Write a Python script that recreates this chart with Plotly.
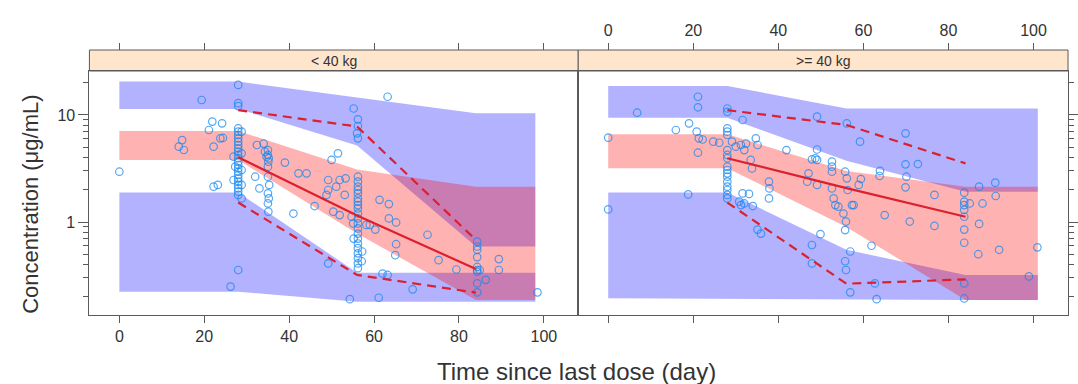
import plotly.graph_objects as go

# ---------------- data ----------------
# simulated prediction intervals (bands) per bin
band_t_L = [0, 28, 56, 84, 98]
p95_hi_L = [20.5, 20.5, 14.6, 10.4, 10.4]
p95_lo_L = [11.4, 11.4, 5.2, 0.59, 0.59]
p50_hi_L = [7.1, 7.1, 3.1, 2.14, 2.14]
p50_lo_L = [3.8, 3.8, 0.78, 0.187, 0.187]
p05_hi_L = [1.89, 1.89, 0.336, 0.336, 0.336]
p05_lo_L = [0.223, 0.223, 0.18, 0.18, 0.18]

band_t_R = [0, 28, 56, 84, 101]
p95_hi_R = [18.7, 18.7, 11.5, 11.5, 11.5]
p95_lo_R = [9.44, 9.44, 3.74, 1.92, 1.92]
p50_hi_R = [6.6, 6.6, 3.0, 2.14, 2.14]
p50_lo_R = [3.18, 3.18, 0.9, 0.187, 0.187]
p05_hi_R = [1.89, 1.89, 0.55, 0.32, 0.32]
p05_lo_R = [0.194, 0.194, 0.19, 0.187, 0.187]

# observed percentiles
obs_t = [28, 56, 84]
obs95_L = [11.1, 7.8, 0.68]
obs50_L = [4.02, 1.15, 0.364]
obs05_L = [1.52, 0.32, 0.219]
obs95_R = [11.1, 8.07, 3.53]
obs50_R = [3.94, 2.07, 1.12]
obs05_R = [1.52, 0.265, 0.291]

# observed concentrations, panel "< 40 kg"
pts_t_L = [0, 19.4, 21.9, 24.2, 21.1, 14.8, 14.0, 15.2, 22.2, 23.8, 24.4, 22.2, 23.2, 26.9, 27.3, 26.9, 26.2,
           28, 28, 28, 28, 28, 28, 28, 28, 28, 28, 28, 28, 28, 28, 28, 28, 28, 28, 28, 28, 28, 28, 28, 28, 28,
           28.8, 28.8, 28.8, 28.8, 28.8,
           32.4, 34, 32, 33, 34.3, 34.7, 35.1, 35, 35, 35.2, 35, 35, 35.3, 35, 35.2, 35, 35.1,
           39, 41, 42.2, 44.1, 46, 49.2, 50, 51.5, 49.2, 48.8, 50.4, 49.2, 51.9,
           63.2, 55.2, 56.2, 56.2, 56, 56.2, 53.3, 51.1, 53.1, 51.9,
           56.2, 56.2, 56.2, 56.2, 56.2, 56.2, 56.2, 56.2, 56.2, 56.2, 56.2, 56.2, 56.2, 56.2, 56.2, 56.2, 56.2,
           56.2, 56.2, 56.2, 56.2,
           55.1, 55.2, 54.7, 57.2, 57.1, 58.2, 59, 60.3, 61.3, 63.5, 63.5, 65.2, 65.2, 65, 62, 63.2, 69.1, 72.6,
           75.2, 54.3, 61.1, 79.4,
           84.3, 84.3, 84.3, 84.3, 84.3, 84.3, 84.3, 84.3, 84.3,
           84.9, 86.3, 89.4, 89.4, 98.5]
pts_c_L = [2.95, 13.8, 8.67, 8.36, 7.24, 5.83, 5.06, 4.71, 5.06, 6.05, 6.1, 2.14, 2.22, 4.08, 3.29, 2.47, 0.249,
           19.1, 12.9, 12.1, 7.5, 6.98, 6.5, 6.05, 5.63, 5.24, 4.88, 4.54, 4.23, 3.94, 3.66, 3.41, 3.17, 2.95,
           2.75, 2.56, 2.38, 2.22, 2.06, 1.92, 1.79, 0.356,
           6.98, 4.38, 3.06, 2.22, 1.66,
           5.24, 5.4, 2.65, 2.06, 4.54, 4.08, 3.66, 4.7, 4.23, 3.94, 3.29, 2.65, 2.22, 1.85, 1.66, 1.49, 1.25,
           3.59, 1.2, 2.85, 2.85, 1.41, 2.47, 3.8, 4.38, 1.99, 1.79, 1.25, 0.41, 2.47,
           14.8, 11.5, 9.1, 7.89, 6.74, 6.05, 2.56, 2.14, 1.79, 1.16,
           2.65, 2.38, 2.14, 1.99, 1.85, 1.66, 1.55, 1.44, 1.34, 1.2, 1.08, 0.97, 0.87, 0.78, 0.70, 0.63, 0.57,
           0.51, 0.46, 0.41, 0.37,
           0.97, 0.70, 1.12, 0.53, 0.43, 0.94, 0.94, 0.85, 1.61, 1.47, 1.08, 0.99, 0.62, 0.49, 0.33, 0.32, 0.235,
           0.76, 0.44, 0.19, 0.196, 0.36,
           0.655, 0.59, 0.55, 0.47, 0.38, 0.356, 0.344, 0.267, 0.22,
           0.356, 0.288, 0.45, 0.356, 0.22]

# observed concentrations, panel ">= 40 kg"
pts_t_R = [0, 0, 6.8, 15.9, 19, 21.1, 21.1, 20.8, 21.3, 21.1, 22.2, 18.8, 24.7, 26.1,
           28, 28, 28, 28, 28, 28, 28, 28, 28, 28, 28, 28, 28, 28, 28, 28, 28,
           29.1, 30, 31.6, 30.8, 32, 31.2, 31.6, 33.1, 31.2, 32, 32.4, 34.7, 35.1, 33.5, 33.8, 34, 35.1, 35.9,
           37.8, 37.9, 37.8, 41.9, 47.9, 49.9, 47.9, 49.1, 49.1, 47.9, 48.7, 46.8, 47.1, 49.1, 49.1,
           56.1, 59.2, 69.9, 72.8, 69.9, 70.1, 69.9, 63.9, 63.8, 59.4, 58.9,
           52.6, 52.6, 52.6, 52.6, 53, 53.4, 54.1, 55.7, 56.1, 56.3, 55.3, 55.9, 55.7, 57.3, 57.7, 56.9, 55.7,
           55.9, 56.9, 61.9, 62.7, 63.1, 65, 70.9, 76.7, 76.7,
           83.7, 83.7, 83.7, 83.7, 83.7, 83.7, 83.7, 83.7, 83.7,
           85, 87.2, 88, 87.2, 87, 91, 91.1, 91.9, 100.9, 98.9]
pts_c_R = [6.14, 1.31, 10.5, 7.24, 8.36, 14.8, 11.8, 6.98, 6.05, 4.44, 5.9, 1.81, 5.63, 5.5,
           11.5, 10.7, 7.5, 6.98, 6.5, 4.7, 4.23, 3.94, 3.29, 3.06, 2.85, 2.65, 2.38, 2.14, 1.99, 1.79, 1.66,
           5.63, 5.06, 8.98, 1.55, 1.49, 1.44, 1.85, 1.83, 5.24, 4.7, 5.4, 6.05, 5.24, 3.8, 3.17, 1.41, 0.85, 0.78,
           2.38, 2.06, 1.66, 4.7, 0.61, 0.77, 0.41, 4.76, 3.8, 3.85, 3.94, 2.38, 2.85, 2.22, 9.64,
           8.36, 5.63, 6.74, 3.48, 3.46, 2.65, 2.11, 3.0, 2.69, 2.52, 2.22,
           3.66, 3.29, 2.95, 2.06, 1.66, 1.44, 1.39, 2.95, 2.56, 1.99, 1.2, 1.01, 0.84, 1.44, 1.44, 0.53, 0.43,
           0.356, 0.22, 0.60, 0.267, 0.19, 1.16, 1.01, 1.79, 0.92,
           1.88, 1.55, 1.44, 1.3, 1.12, 0.85, 0.64, 0.267, 0.193,
           1.49, 2.14, 1.49, 0.96, 0.50, 2.33, 1.75, 0.55, 0.58, 0.31]

panel_labels = ["< 40 kg", ">= 40 kg"]
x_ticks = [0, 20, 40, 60, 80, 100]
y_major = [1, 10]
y_minor = [0.2, 0.3, 0.4, 0.5, 0.6, 0.7, 0.8, 0.9, 2, 3, 4, 5, 6, 7, 8, 9, 20]

# ---------------- styling ----------------
W, H = 1078, 384
BLUE = "rgba(0,0,255,0.30)"
RED = "rgba(255,0,0,0.30)"
LINE = "rgb(220,32,48)"
PT = "rgba(20,135,240,0.72)"
FONT = "Liberation Sans, Arial, sans-serif"
TXT = "#333333"
FRAME = "#5a5a5a"

X0, X1, X2 = 90 / W, 582 / W, 1075 / W
Y0, Y1, Y2 = 1 - 315 / H, 1 - 71 / H, 1 - 50 / H
XR = [-7.05, 108.1]
YR = [-0.869, 1.411]

fig = go.Figure()


def band(t, hi, lo, color, xa, ya):
    fig.add_trace(go.Scatter(x=t + t[::-1], y=hi + lo[::-1], fill="toself", fillcolor=color,
                             line=dict(width=0), mode="lines", hoverinfo="skip",
                             showlegend=False, xaxis=xa, yaxis=ya))


panels = [
    ("x", "y", band_t_L, (p95_hi_L, p95_lo_L), (p05_hi_L, p05_lo_L), (p50_hi_L, p50_lo_L),
     pts_t_L, pts_c_L, (obs95_L, obs50_L, obs05_L)),
    ("x2", "y2", band_t_R, (p95_hi_R, p95_lo_R), (p05_hi_R, p05_lo_R), (p50_hi_R, p50_lo_R),
     pts_t_R, pts_c_R, (obs95_R, obs50_R, obs05_R)),
]

for xa, ya, bt, b95, b05, b50, pt, pc, obs in panels:
    band(bt, b95[0], b95[1], BLUE, xa, ya)
    band(bt, b05[0], b05[1], BLUE, xa, ya)
    band(bt, b50[0], b50[1], RED, xa, ya)
    fig.add_trace(go.Scatter(x=pt, y=pc, mode="markers",
                             marker=dict(symbol="circle-open", size=7.5, color=PT, line=dict(width=1.2)),
                             showlegend=False, xaxis=xa, yaxis=ya))
    fig.add_trace(go.Scatter(x=obs_t, y=obs[0], mode="lines", line=dict(color=LINE, width=2.2, dash="9px,6px"),
                             showlegend=False, xaxis=xa, yaxis=ya))
    fig.add_trace(go.Scatter(x=obs_t, y=obs[1], mode="lines", line=dict(color=LINE, width=2.2),
                             showlegend=False, xaxis=xa, yaxis=ya))
    fig.add_trace(go.Scatter(x=obs_t, y=obs[2], mode="lines", line=dict(color=LINE, width=2.2, dash="9px,6px"),
                             showlegend=False, xaxis=xa, yaxis=ya))

# empty traces so the extra tick axes are realised
fig.add_trace(go.Scatter(x=[], y=[], xaxis="x3", yaxis="y", showlegend=False))
fig.add_trace(go.Scatter(x=[], y=[], xaxis="x4", yaxis="y2", showlegend=False))
fig.add_trace(go.Scatter(x=[], y=[], xaxis="x", yaxis="y3", showlegend=False))
fig.add_trace(go.Scatter(x=[], y=[], xaxis="x2", yaxis="y4", showlegend=False))

tickfont = dict(family=FONT, size=16, color=TXT)
xcommon = dict(range=XR, tickmode="array", tickvals=x_ticks, ticks="outside", ticklen=7,
               tickcolor=FRAME, tickfont=tickfont, showgrid=False, zeroline=False)
ycommon = dict(type="log", range=YR, domain=[Y0, Y1], tickmode="array", tickvals=y_major,
               ticktext=[str(v) for v in y_major], ticks="outside", ticklen=10, tickcolor=FRAME,
               tickfont=tickfont, showgrid=False, zeroline=False)
yminor = dict(type="log", range=YR, tickmode="array", tickvals=y_minor, ticktext=["" for v in y_minor],
              ticks="outside", ticklen=5, tickcolor=FRAME, showticklabels=False, showgrid=False,
              zeroline=False, showline=False)

fig.update_layout(
    width=W, height=H, margin=dict(l=0, r=0, t=0, b=0), autosize=False,
    paper_bgcolor="white", plot_bgcolor="white", showlegend=False,
    font=dict(family=FONT, color=TXT),
    xaxis=dict(domain=[X0, X1], anchor="y", showline=True, linecolor=FRAME, mirror=True, **xcommon),
    xaxis2=dict(domain=[X1, X2], anchor="y2", showline=True, linecolor=FRAME, mirror=True,
                showticklabels=False, **xcommon),
    xaxis3=dict(overlaying="x", side="top", anchor="free", position=Y2, showticklabels=False,
                showline=False, **xcommon),
    xaxis4=dict(overlaying="x2", side="top", anchor="free", position=Y2, showticklabels=True,
                showline=False, ticklabelstandoff=1, **xcommon),
    yaxis=dict(anchor="x", side="left", showline=True, linecolor=FRAME, mirror=True, **ycommon),
    yaxis2=dict(anchor="x2", side="right", showticklabels=False, showline=True, linecolor=FRAME,
                mirror=True, **ycommon),
    yaxis3=dict(overlaying="y", anchor="x", side="left", **yminor),
    yaxis4=dict(overlaying="y2", anchor="x2", side="right", **yminor),
)

# strips
for (a, b), lab in zip([(X0, X1), (X1, X2)], panel_labels):
    fig.add_shape(type="rect", xref="paper", yref="paper", x0=a, x1=b, y0=Y1, y1=Y2,
                  fillcolor="#ffe5cc", line=dict(color=FRAME, width=1), layer="below")
    fig.add_annotation(x=(a + b) / 2, y=(Y1 + Y2) / 2, xref="paper", yref="paper", text=lab,
                       showarrow=False, font=dict(family=FONT, size=14, color=TXT),
                       xanchor="center", yanchor="middle")

fig.add_annotation(x=30 / W, y=1 - 204 / H, xref="paper", yref="paper", text="Concentration (μg/mL)",
                   textangle=-90, showarrow=False, font=dict(family=FONT, size=22, color=TXT),
                   xanchor="center", yanchor="middle")
fig.add_annotation(x=580 / W, y=1 - 371 / H, xref="paper", yref="paper", text="Time since last dose (day)",
                   showarrow=False, font=dict(family=FONT, size=24, color=TXT),
                   xanchor="center", yanchor="middle")

fig.write_html("out.html")
